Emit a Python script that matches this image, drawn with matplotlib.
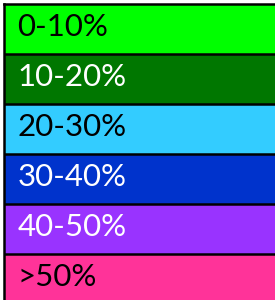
import matplotlib
matplotlib.use("Agg")
import matplotlib.pyplot as plt

etiquetas = ["0-10%", "10-20%", "20-30%", "30-40%", "40-50%", ">50%"]
colores = ["#00ff00", "#007700", "#33ccff", "#0033cc", "#9933ff", "#ff3399"]
colores_texto = ["black", "white", "black", "white", "white", "black"]

fig = plt.figure(figsize=(2.75, 3.0), dpi=100)
# eje desde el borde superior (4 px) hasta abajo
ax = fig.add_axes([4 / 275, 0, 271 / 275, 296 / 300])

filas = list(range(len(etiquetas)))
ax.barh(filas, [1] * len(filas), height=1, left=0, align="edge", color=colores)

for i in filas:
    ax.text(0.05, i + 0.45, etiquetas[i], color=colores_texto[i],
            fontsize=22.5, family="Lato",
            va="center", ha="left")

ax.hlines(filas[1:], 0, 1, colors="black", linewidth=1.8)

ax.set_xlim(0, 1)
ax.set_ylim(296 / 50, 0)
ax.set_xticks([])
ax.set_yticks([])
for lado in ["right", "bottom"]:
    ax.spines[lado].set_visible(False)
for lado in ["left", "top"]:
    ax.spines[lado].set_linewidth(1.8)

fig.savefig("out.png", dpi=100)
